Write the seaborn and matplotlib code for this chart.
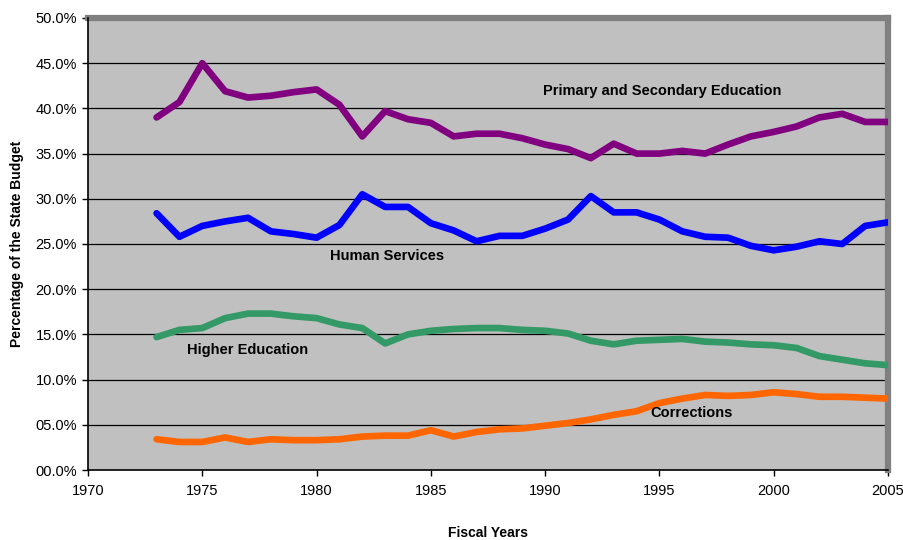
import numpy as np
import pandas as pd
import matplotlib
matplotlib.use("Agg")
import matplotlib.pyplot as plt
import seaborn as sns
from matplotlib.ticker import FuncFormatter

years = list(range(1973, 2006))
primary_secondary = [39.0, 40.7, 45.0, 41.9, 41.2, 41.4, 41.8, 42.1, 40.4, 36.9, 39.7,
                     38.8, 38.4, 36.9, 37.2, 37.2, 36.7, 36.0, 35.5, 34.5, 36.1, 35.0,
                     35.0, 35.3, 35.0, 36.0, 36.9, 37.4, 38.0, 39.0, 39.4, 38.5, 38.5]
human_services = [28.4, 25.8, 27.0, 27.5, 27.9, 26.4, 26.1, 25.7, 27.1, 30.5, 29.1,
                  29.1, 27.3, 26.5, 25.3, 25.9, 25.9, 26.7, 27.7, 30.3, 28.5, 28.5,
                  27.7, 26.4, 25.8, 25.7, 24.8, 24.3, 24.7, 25.3, 25.0, 27.0, 27.4]
higher_education = [14.7, 15.5, 15.7, 16.8, 17.3, 17.3, 17.0, 16.8, 16.1, 15.7, 14.0,
                    15.0, 15.4, 15.6, 15.7, 15.7, 15.5, 15.4, 15.1, 14.3, 13.9, 14.3,
                    14.4, 14.5, 14.2, 14.1, 13.9, 13.8, 13.5, 12.6, 12.2, 11.8, 11.6]
corrections = [3.4, 3.1, 3.1, 3.6, 3.1, 3.4, 3.3, 3.3, 3.4, 3.7, 3.8,
               3.8, 4.4, 3.7, 4.2, 4.5, 4.6, 4.9, 5.2, 5.6, 6.1, 6.5,
               7.4, 7.9, 8.3, 8.2, 8.3, 8.6, 8.4, 8.1, 8.1, 8.0, 7.9]

series_names = ["Primary and Secondary Education", "Human Services",
                "Higher Education", "Corrections"]
series_values = [primary_secondary, human_services, higher_education, corrections]
colors = ["#800080", "#0000FF", "#339966", "#FF6600"]
x_ticks = [1970, 1975, 1980, 1985, 1990, 1995, 2000, 2005]
y_ticks = [0, 5, 10, 15, 20, 25, 30, 35, 40, 45, 50]

df = pd.DataFrame({
    "Year": np.tile(years, len(series_names)),
    "Value": np.concatenate(series_values),
    "Series": np.repeat(series_names, len(years)),
})

sns.set_theme(style="white")
plt.rcParams['font.family'] = ['Liberation Sans', 'DejaVu Sans']
plt.rcParams.update({"text.color": "black", "axes.labelcolor": "black",
                     "xtick.color": "black", "ytick.color": "black"})

fig = plt.figure(figsize=(9.04, 5.4), dpi=100)
ax = fig.add_axes([88/904, 1-470/540, 800/904, 452/540])
ax.set_facecolor("#C0C0C0")

for v in y_ticks[1:-1]:
    ax.axhline(v, color="black", lw=0.9, zorder=1)

sns.lineplot(data=df, x="Year", y="Value", hue="Series", palette=dict(zip(series_names, colors)),
             linewidth=4.8, legend=False, ax=ax, zorder=3)
for line in ax.lines:
    line.set_solid_capstyle("round")
    line.set_solid_joinstyle("round")

ax.set_xlim(1970, 2005)
ax.set_ylim(0, 50)
ax.set_xticks(x_ticks)
ax.set_yticks(y_ticks)
ax.yaxis.set_major_formatter(FuncFormatter(lambda v, p: f"{v:04.1f}%"))
ax.tick_params(axis="both", which="major", labelsize=10.5, length=4, width=1,
               color="black", labelcolor="black", direction="out", pad=4)
ax.tick_params(axis="x", pad=6)
ax.tick_params(axis="both", bottom=True, left=True)

ax.set_xlabel("")
fig.text(488/904, 1-533/540, "Fiscal Years", fontsize=10, fontweight="bold",
         color="black", ha="center", va="center")
ax.set_ylabel("Percentage of the State Budget", fontsize=10, fontweight="bold",
              color="black", labelpad=8)

for side in ["left", "bottom"]:
    ax.spines[side].set_color("black")
    ax.spines[side].set_linewidth(1.2)
for side in ["top", "right"]:
    ax.spines[side].set_color("#808080")
    ax.spines[side].set_linewidth(4.5)
ax.spines["left"].set_zorder(5)

label_style = dict(fontsize=10.5, fontweight="bold", color="black", ha="center", va="center", zorder=4)
ax.text(1995.1, 41.9, "Primary and Secondary Education", **label_style)
ax.text(1983.1, 23.7, "Human Services", **label_style)
ax.text(1977.0, 13.3, "Higher Education", **label_style)
ax.text(1996.4, 6.3, "Corrections", **label_style)

fig.savefig("out.png", dpi=100, facecolor="white")
